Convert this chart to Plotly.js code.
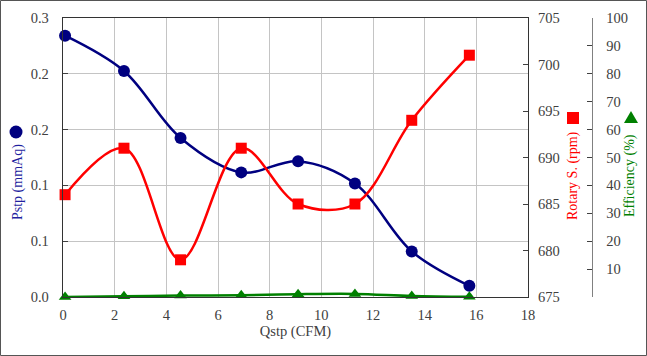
<!DOCTYPE html>
<html>
<head>
<meta charset="utf-8">
<script src="https://cdn.plot.ly/plotly-3.0.1.min.js"></script>
<style>html,body{margin:0;padding:0;background:#fff;}#chart{width:647px;height:356px;}</style>
</head>
<body>
<div id="chart"></div>
<script>
// Data
const qstp = [0.08, 2.36, 4.55, 6.9, 9.1, 11.3, 13.5, 15.73];
const pstp = [0.281, 0.243, 0.171, 0.134, 0.146, 0.122, 0.049, 0.012];
const rotary = [686, 691, 679, 691, 685, 685, 694, 701];
const efficiency = [0.0, 0.3, 0.5, 0.6, 1.0, 1.1, 0.4, 0.1];
const pstpTicks = [0, 0.06, 0.12, 0.18, 0.24, 0.3];
const effTicks = [0, 10, 20, 30, 40, 50, 60, 70, 80, 90, 100];
const effTickText = ['', '10', '20', '30', '40', '50', '60', '70', '80', '90', '100'];

const FONT = "'Liberation Serif', 'Times New Roman', serif";
const TICKC = '#404040';

const traces = [
  {x: qstp, y: pstp, yaxis: 'y', type: 'scatter', mode: 'lines+markers', name: 'Pstp',
   line: {color: '#000080', width: 2.5, shape: 'spline', smoothing: 1},
   marker: {symbol: 'circle', size: 12, color: '#000080'}, cliponaxis: false},
  {x: qstp, y: rotary, yaxis: 'y2', type: 'scatter', mode: 'lines+markers', name: 'Rotary S.',
   line: {color: '#ff0000', width: 2.5, shape: 'spline', smoothing: 1},
   marker: {symbol: 'square', size: 11, color: '#ff0000'}, cliponaxis: false},
  {x: qstp, y: efficiency, yaxis: 'y3', type: 'scatter', mode: 'lines+markers', name: 'Efficiency',
   line: {color: '#008000', width: 2.5, shape: 'spline', smoothing: 1},
   marker: {symbol: 'triangle-up', size: 11, color: '#008000'}, cliponaxis: false}
];

const W = 529, H = 279, L = 63, T = 18;
const px = v => (v - L) / W;
const py = v => (T + H - v) / H;

const layout = {
  width: 647, height: 356,
  margin: {l: L, r: 647 - L - W, t: T, b: 356 - T - H, pad: 0},
  paper_bgcolor: '#ffffff', plot_bgcolor: '#ffffff',
  showlegend: false,
  font: {family: FONT, size: 14, color: TICKC},
  xaxis: {
    domain: [0, 465 / W], range: [0, 18], dtick: 2, tick0: 0,
    showgrid: true, gridcolor: '#c4c4c4', gridwidth: 1,
    showline: true, linecolor: '#333333', linewidth: 1.3, mirror: true,
    ticks: '', zeroline: false,
    tickfont: {family: FONT, size: 14.5, color: TICKC},
    ticklabelstandoff: 4,
    title: {text: 'Qstp (CFM)', font: {family: FONT, size: 14.5, color: TICKC}, standoff: 2}
  },
  yaxis: {
    range: [0, 0.3], tickvals: pstpTicks, tickformat: '.1f',
    showgrid: true, gridcolor: '#c4c4c4', gridwidth: 1,
    showline: true, linecolor: '#333333', linewidth: 1.3, mirror: true,
    ticks: 'inside', ticklen: 5, tickcolor: '#404040', zeroline: false,
    tickfont: {family: FONT, size: 14.5, color: TICKC},
    ticklabelstandoff: 10
  },
  yaxis2: {
    overlaying: 'y', side: 'right', anchor: 'x',
    range: [675, 705], dtick: 5, tick0: 675,
    showgrid: false, showline: false, zeroline: false,
    ticks: 'inside', ticklen: 5, tickcolor: '#404040',
    tickfont: {family: FONT, size: 14.5, color: TICKC},
    ticklabelstandoff: 9
  },
  yaxis3: {
    overlaying: 'y', side: 'right', anchor: 'free', position: 1,
    range: [0, 100], tickvals: effTicks, ticktext: effTickText,
    showgrid: false, showline: true, linecolor: '#808080', linewidth: 1.3, zeroline: false,
    ticks: 'inside', ticklen: 5, tickcolor: '#404040',
    tickfont: {family: FONT, size: 14.5, color: TICKC},
    ticklabelstandoff: 10
  },
  annotations: [
    {xref: 'paper', yref: 'paper', x: px(18), y: py(182), text: 'Pstp (mmAq)', textangle: -90,
     showarrow: false, xanchor: 'center', yanchor: 'middle', font: {family: FONT, size: 14, color: '#1f1f9f'}},
    {xref: 'paper', yref: 'paper', x: px(573), y: py(176), text: 'Rotary S. (rpm)', textangle: -90,
     showarrow: false, xanchor: 'center', yanchor: 'middle', font: {family: FONT, size: 14, color: '#ff0000'}},
    {xref: 'paper', yref: 'paper', x: px(630), y: py(176), text: 'Efficiency (%)', textangle: -90,
     showarrow: false, xanchor: 'center', yanchor: 'middle', font: {family: FONT, size: 14, color: '#008000'}}
  ],
  shapes: [
    {type: 'rect', xref: 'paper', yref: 'paper', x0: px(0.5), x1: px(646.5), y0: py(355.5), y1: py(0.5),
     line: {color: '#555555', width: 1}, layer: 'below'},
    {type: 'circle', xref: 'paper', yref: 'paper', xsizemode: 'pixel', ysizemode: 'pixel',
     xanchor: px(16), yanchor: py(132), x0: -6.5, x1: 6.5, y0: -6.5, y1: 6.5,
     fillcolor: '#000080', line: {width: 0}},
    {type: 'rect', xref: 'paper', yref: 'paper', xsizemode: 'pixel', ysizemode: 'pixel',
     xanchor: px(573), yanchor: py(118), x0: -6, x1: 6, y0: -6, y1: 6,
     fillcolor: '#ff0000', line: {width: 0}},
    {type: 'path', xref: 'paper', yref: 'paper', xsizemode: 'pixel', ysizemode: 'pixel',
     xanchor: px(631), yanchor: py(118), path: 'M -7 -5 L 7 -5 L 0 7 Z',
     fillcolor: '#008000', line: {width: 0}}
  ]
};

Plotly.newPlot('chart', traces, layout, {displayModeBar: false, staticPlot: true});
</script>
</body>
</html>
